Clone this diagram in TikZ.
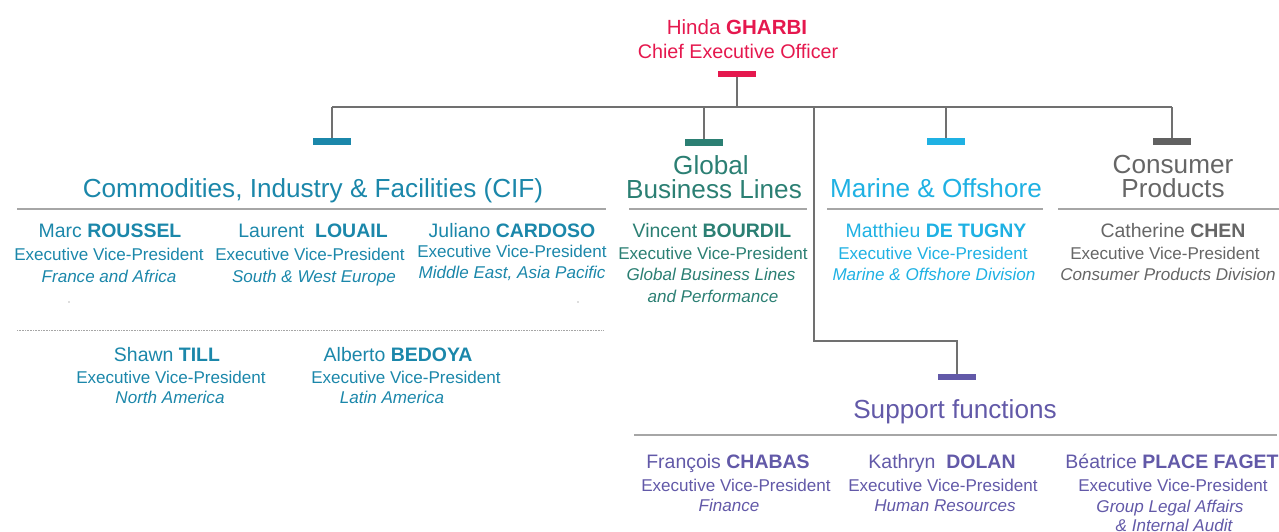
\documentclass[tikz,border=0pt]{standalone}
\usepackage{fontspec}
\setmainfont{Liberation Sans}
\definecolor{ceo}{HTML}{E5184E}
\definecolor{cif}{HTML}{1B87AA}
\definecolor{gbl}{HTML}{2B7F73}
\definecolor{mar}{HTML}{1FB1E3}
\definecolor{cons}{HTML}{666666}
\definecolor{sup}{HTML}{6259A8}
\definecolor{linegray}{HTML}{707070}
\definecolor{rulegray}{HTML}{A6A6A6}
\tikzset{
  barbox/.style={minimum width=28.5pt, minimum height=4.6pt, inner sep=0pt, fill=#1},
  conn/.style={draw=linegray, line width=0.9pt},
  rulel/.style={draw=rulegray, line width=1.2pt},
  head/.style={anchor=base, inner sep=0pt, font=\fontsize{19.6}{21}\selectfont},
  nm/.style={anchor=base, inner sep=0pt, font=\fontsize{14.6}{16}\selectfont},
  evp/.style={anchor=base, inner sep=0pt, font=\fontsize{12.8}{14}\selectfont},
  itl/.style={anchor=base, inner sep=0pt, font=\fontsize{12.8}{14}\selectfont\itshape},
}
\begin{document}
\begin{tikzpicture}[x=0.75pt,y=-0.75pt]
\useasboundingbox (0,0) rectangle (1279,532);

% CEO
\node[nm, text=ceo, font=\fontsize{15.4}{17}\selectfont] (ceoname) at (737,34) {Hinda \textbf{GHARBI}};
\node[nm, text=ceo, font=\fontsize{14.8}{17}\selectfont] (ceotitle) at (738,58) {Chief Executive Officer};
\node[barbox=ceo] (ceobar) at (737,74) {};

% bars
\node[barbox=cif] (cifbar) at (332,141.5) {};
\node[barbox=gbl] (gblbar) at (704,142.5) {};
\node[barbox=mar] (marbar) at (946,141.5) {};
\node[barbox=cons!95!black] (consbar) at (1172,141.5) {};
\node[barbox=sup] (supbar) at (957,377) {};

% connectors
\coordinate (j0) at (737,107);
\coordinate (jcif) at (332,107);
\coordinate (jgbl) at (704,107);
\coordinate (jsup) at (814,107);
\coordinate (jmar) at (946,107);
\coordinate (jcons) at (1172,107);
\coordinate (ksup) at (814,341);
\coordinate (lsup) at (957,341);
\draw[conn] (ceobar.south) -- (j0);
\draw[conn] (jcif) -- (jcons);
\draw[conn] (jcif) -- (cifbar.north);
\draw[conn] (jgbl) -- (gblbar.north);
\draw[conn] (jmar) -- (marbar.north);
\draw[conn] (jcons) -- (consbar.north);
\draw[conn] (jsup) -- (ksup) -- (lsup) -- (supbar.north);

% headings
\node[head, text=cif] (cifhead) at (313,197) {Commodities, Industry \& Facilities (CIF)};
\node[head, text=gbl] (gblhead1) at (711,174) {Global};
\node[head, text=gbl] (gblhead2) at (714,198) {Business Lines};
\node[head, text=mar] (marhead) at (936,197) {Marine \& Offshore};
\node[head, text=cons] (conshead1) at (1173,173) {Consumer};
\node[head, text=cons] (conshead2) at (1173,197) {Products};
\node[head, text=sup] (suphead) at (955,418) {Support functions};

% underlines
\coordinate (u1a) at (17,209); \coordinate (u1b) at (606,209);
\coordinate (u2a) at (629,209); \coordinate (u2b) at (807,209);
\coordinate (u3a) at (827,209); \coordinate (u3b) at (1043,209);
\coordinate (u4a) at (1058,209); \coordinate (u4b) at (1279,209);
\coordinate (u5a) at (634,435); \coordinate (u5b) at (1277,435);
\draw[rulel] (u1a) -- (u1b);
\draw[rulel] (u2a) -- (u2b);
\draw[rulel] (u3a) -- (u3b);
\draw[rulel] (u4a) -- (u4b);
\draw[rulel] (u5a) -- (u5b);

% dotted separator in CIF
\coordinate (d1) at (17,330); \coordinate (d2) at (603,330);
\draw[draw=rulegray, line width=0.75pt, dash pattern=on 0.6pt off 0.6pt] (d1) -- (d2);
\fill[linegray] (69,302) circle (0.6);
\fill[linegray] (578,302) circle (0.6);

% CIF people
\node[nm, text=cif] (p1n) at (110,237) {Marc \textbf{ROUSSEL}};
\node[evp, text=cif] (p1e) at (109,260) {Executive Vice-President};
\node[itl, text=cif] (p1i) at (109,282) {France and Africa};

\node[nm, text=cif] (p2n) at (313,237) {Laurent\ \ \textbf{LOUAIL}};
\node[evp, text=cif] (p2e) at (310,260) {Executive Vice-President};
\node[itl, text=cif] (p2i) at (314,282) {South \& West Europe};

\node[nm, text=cif] (p3n) at (512,237) {Juliano \textbf{CARDOSO}};
\node[evp, text=cif] (p3e) at (512,257) {Executive Vice-President};
\node[itl, text=cif] (p3i) at (512,278) {Middle East, Asia Pacific};

\node[nm, text=cif] (p4n) at (167,361) {Shawn \textbf{TILL}};
\node[evp, text=cif] (p4e) at (171,383) {Executive Vice-President};
\node[itl, text=cif] (p4i) at (170,403) {North America};

\node[nm, text=cif] (p5n) at (398,361) {Alberto \textbf{BEDOYA}};
\node[evp, text=cif] (p5e) at (406,383) {Executive Vice-President};
\node[itl, text=cif] (p5i) at (392,403) {Latin America};

% GBL
\node[nm, text=gbl] (p6n) at (712,237) {Vincent \textbf{BOURDIL}};
\node[evp, text=gbl] (p6e) at (713,259) {Executive Vice-President};
\node[itl, text=gbl] (p6i) at (711,280) {Global Business Lines};
\node[itl, text=gbl] (p6j) at (713,302) {and Performance};

% Marine
\node[nm, text=mar] (p7n) at (936,237) {Matthieu \textbf{DE TUGNY}};
\node[evp, text=mar] (p7e) at (933,259) {Executive Vice-President};
\node[itl, text=mar] (p7i) at (934,280) {Marine \& Offshore Division};

% Consumer
\node[nm, text=cons] (p8n) at (1173,237) {Catherine \textbf{CHEN}};
\node[evp, text=cons] (p8e) at (1165,259) {Executive Vice-President};
\node[itl, text=cons] (p8i) at (1168,280) {Consumer Products Division};

% Support
\node[nm, text=sup] (p9n) at (728,468) {François \textbf{CHABAS}};
\node[evp, text=sup] (p9e) at (736,491) {Executive Vice-President};
\node[itl, text=sup] (p9i) at (729,511) {Finance};

\node[nm, text=sup] (p10n) at (942,468) {Kathryn\ \ \textbf{DOLAN}};
\node[evp, text=sup] (p10e) at (943,491) {Executive Vice-President};
\node[itl, text=sup] (p10i) at (945,511) {Human Resources};

\node[nm, text=sup] (p11n) at (1172,468) {Béatrice \textbf{PLACE FAGET}};
\node[evp, text=sup] (p11e) at (1173,491) {Executive Vice-President};
\node[itl, text=sup] (p11i) at (1170,512) {Group Legal Affairs};
\node[itl, text=sup] (p11j) at (1174,531) {\& Internal Audit};
\end{tikzpicture}
\end{document}
